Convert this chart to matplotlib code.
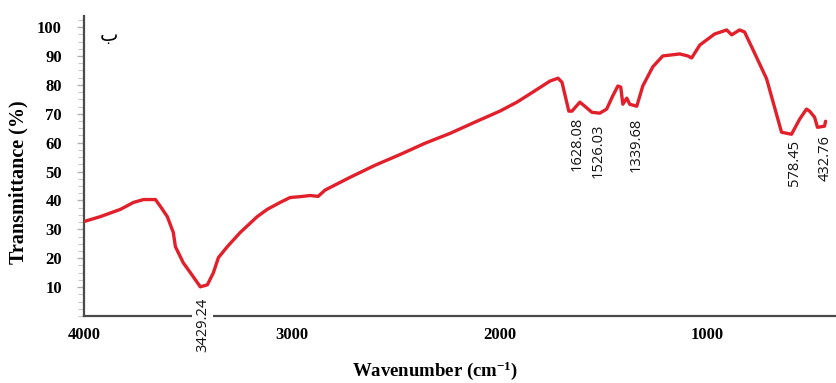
import numpy as np
import matplotlib.pyplot as plt
from matplotlib.ticker import MultipleLocator

# IR spectrum
wavenumber = [4000, 3921, 3825, 3762, 3714, 3656, 3632, 3599, 3570, 3560, 3522, 3488,
              3440, 3406, 3377, 3353, 3310, 3248, 3166, 3118, 3056, 3008, 2960, 2911,
              2873, 2839, 2719, 2598, 2478, 2358, 2238, 2118, 1998, 1916, 1839, 1757,
              1718, 1699, 1666, 1651, 1613, 1589, 1555, 1517, 1484, 1455, 1430, 1416,
              1406, 1387, 1373, 1339, 1310, 1262, 1214, 1132, 1093, 1075, 1035, 964,
              906, 882, 844, 820, 781, 714, 642, 594, 555, 522, 507, 483, 469, 435, 430]
transmittance = [32.7, 34.4, 36.9, 39.3, 40.3, 40.3, 37.9, 34.4, 28.9, 24.0, 18.4, 15.0,
                 10.1, 10.8, 15.0, 20.2, 24.0, 28.9, 34.4, 36.9, 39.3, 41.0, 41.3, 41.7,
                 41.4, 43.6, 48.0, 52.2, 55.9, 59.8, 63.2, 67.1, 70.9, 74.0, 77.5, 81.3,
                 82.3, 80.9, 70.9, 70.9, 74.0, 72.6, 70.5, 70.2, 71.6, 76.1, 79.6, 79.2,
                 73.3, 75.4, 73.3, 72.6, 79.6, 86.2, 90.0, 90.7, 90.0, 89.3, 93.8, 97.6,
                 99.0, 97.3, 99.0, 98.3, 92.4, 82.1, 63.6, 62.9, 68.1, 71.6, 70.9, 68.8,
                 65.3, 65.7, 67.4]
peaks = [3429.24, 1628.08, 1526.03, 1339.68, 578.45, 432.76]
y_ticks = [10, 20, 30, 40, 50, 60, 70, 80, 90, 100]
x_ticks = [4000, 3000, 2000, 1000]
panel_letter = '\ufe8f'  # Arabic beh, isolated form

plt.rcParams['mathtext.fontset'] = 'custom'
plt.rcParams['mathtext.rm'] = 'Liberation Serif:bold'
plt.rcParams['mathtext.bf'] = 'Liberation Serif:bold'
plt.rcParams['mathtext.it'] = 'Liberation Serif:bold'

serif = {'family': 'Liberation Serif', 'weight': 'bold'}

fig = plt.figure(figsize=(8.37, 3.83), dpi=100)
ax = fig.add_axes([84 / 837, 1 - 316 / 383, 753 / 837, 300.5 / 383])

ax.plot(wavenumber, transmittance, color='#e1202b', lw=2.4,
        solid_capstyle='round', solid_joinstyle='round', zorder=3)

ax.set_xlim(4000, 375)
ax.set_ylim(0, 104)

for s in ['top', 'right']:
    ax.spines[s].set_visible(False)
for s in ['left', 'bottom']:
    ax.spines[s].set_color('#4a4a4a')
    ax.spines[s].set_linewidth(1.6)

ax.set_yticks(y_ticks)
ax.set_xticks(x_ticks)
ax.yaxis.set_minor_locator(MultipleLocator(2.5))
ax.tick_params(axis='y', which='major', direction='out', length=5, width=1, color='#b0b0b0', pad=11)
ax.tick_params(axis='y', which='minor', direction='out', length=4, width=0.8, color='#c8c8c8')
ax.tick_params(axis='x', which='major', length=0, pad=8)
for lab in ax.get_yticklabels() + ax.get_xticklabels():
    lab.set_fontproperties(serif)
    lab.set_fontsize(12)

ax.set_ylabel('Transmittance (%)', fontdict=serif, fontsize=14.5)
ax.yaxis.set_label_coords(-0.074, 0.446)
ax.set_xlabel('Wavenumber (cm$^{-1}$)', fontdict=serif, fontsize=13.5)
ax.xaxis.set_label_coords(0.466, -0.145)

# peak labels, hung just under the curve
wn_inc = np.array(wavenumber)[::-1]
t_inc = np.array(transmittance)[::-1]
for p in peaks:
    yv = np.interp(p, wn_inc, t_inc)
    bbox = None
    if p == peaks[0]:
        bbox = dict(facecolor='white', edgecolor='none', pad=2)
    ax.annotate(f'{p:.2f}', xy=(p, yv), xytext=(0, -8), textcoords='offset points',
                rotation=90, ha='center', va='top', fontsize=10.5, family='Open Sans',
                color='#111111', bbox=bbox, annotation_clip=False, zorder=5)

ax.text(0.033, 0.935, panel_letter, transform=ax.transAxes, fontsize=14, family='DejaVu Sans',
        ha='center', va='center')

fig.savefig('out.png', dpi=100)
